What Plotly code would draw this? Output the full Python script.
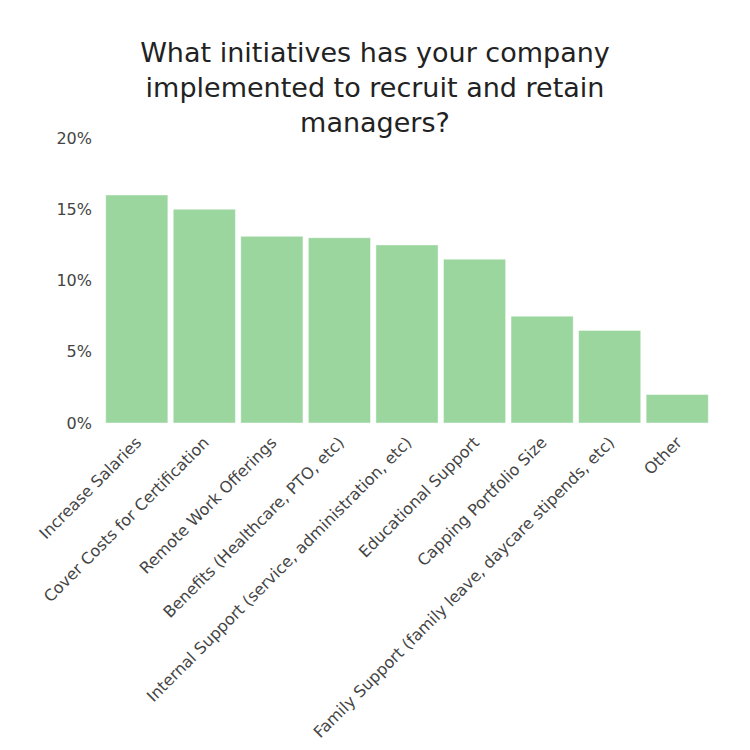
import plotly.graph_objects as go

categories = [
    "Increase Salaries",
    "Cover Costs for Certification",
    "Remote Work Offerings",
    "Benefits (Healthcare, PTO, etc)",
    "Internal Support (service, administration, etc)",
    "Educational Support",
    "Capping Portfolio Size",
    "Family Support (family leave, daycare stipends, etc)",
    "Other",
]
values = [16.0, 15.0, 13.1, 13.0, 12.5, 11.5, 7.5, 6.5, 2.0]
y_ticks = [0, 5, 10, 15, 20]
y_tick_labels = ["0%", "5%", "10%", "15%", "20%"]

FONT = "DejaVu Sans"

fig = go.Figure(
    go.Bar(
        x=categories,
        y=values,
        marker=dict(color="#9ad69e", line=dict(color="rgba(255,255,255,0.45)", width=1)),
        hoverinfo="skip",
    )
)

fig.update_layout(
    width=750,
    height=750,
    paper_bgcolor="white",
    plot_bgcolor="white",
    margin=dict(l=103, r=39, t=138, b=327),
    bargap=0.08,
    showlegend=False,
    font=dict(family=FONT, color="#444444", size=15),
    title=dict(
        text="What initiatives has your company<br>implemented to recruit and retain<br>managers?",
        x=0.5,
        xanchor="center",
        xref="container",
        y=0.918,
        yref="container",
        yanchor="top",
        font=dict(family=FONT, size=27, color="#222222"),
    ),
)

fig.update_xaxes(
    tickangle=-45,
    showgrid=False,
    showline=False,
    zeroline=False,
    ticks="",
    automargin=False,
    ticklabelstandoff=6,
    tickfont=dict(size=16, color="#444444"),
)
fig.update_yaxes(
    range=[0, 20],
    tickvals=y_ticks,
    ticktext=y_tick_labels,
    showgrid=False,
    zeroline=False,
    showline=False,
    ticks="",
    ticklen=0,
    automargin=False,
    ticklabelstandoff=10,
    tickfont=dict(size=16, color="#444444"),
)

fig.write_html("out.html")
